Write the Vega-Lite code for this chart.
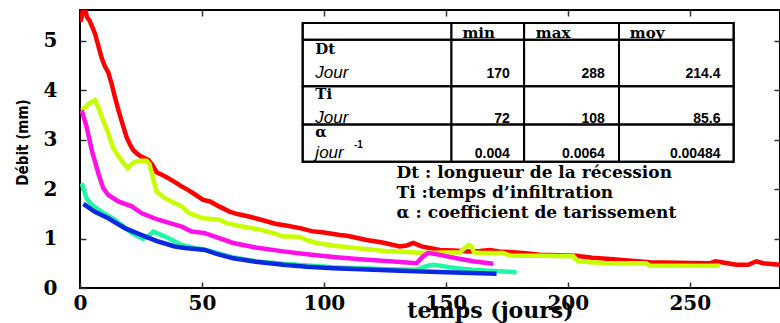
{
  "$schema": "https://vega.github.io/schema/vega-lite/v6.json",
  "width": 700,
  "height": 278,
  "autosize": {"type": "none"},
  "padding": {"left": 80, "top": 10, "right": 0, "bottom": 35},
  "background": "white",
  "config": {"view": {"stroke": "black", "strokeWidth": 2}, "axis": {"grid": false}},
  "datasets": {
    "series": [
      {"s":"A","jour":0.2,"debit":5.38},{"s":"A","jour":1.8,"debit":5.75},{"s":"A","jour":2.8,"debit":5.48},{"s":"A","jour":4.0,"debit":5.40},{"s":"A","jour":5.0,"debit":5.28},{"s":"A","jour":6.1,"debit":5.15},{"s":"A","jour":7.5,"debit":4.90},{"s":"A","jour":8.9,"debit":4.65},{"s":"A","jour":10.2,"debit":4.48},{"s":"A","jour":11.6,"debit":4.36},{"s":"A","jour":13,"debit":4.12},{"s":"A","jour":14.3,"debit":3.86},{"s":"A","jour":15.6,"debit":3.62},{"s":"A","jour":17,"debit":3.39},{"s":"A","jour":19.1,"debit":3.05},{"s":"A","jour":20.5,"debit":2.90},{"s":"A","jour":21.8,"debit":2.79},{"s":"A","jour":23.5,"debit":2.71},{"s":"A","jour":25.3,"debit":2.65},{"s":"A","jour":28,"debit":2.59},{"s":"A","jour":29.5,"debit":2.50},{"s":"A","jour":31.4,"debit":2.34},{"s":"A","jour":34,"debit":2.28},{"s":"A","jour":36.2,"debit":2.22},{"s":"A","jour":38.9,"debit":2.14},{"s":"A","jour":41.5,"debit":2.06},{"s":"A","jour":44.4,"debit":1.98},{"s":"A","jour":47.5,"debit":1.88},{"s":"A","jour":50.5,"debit":1.78},{"s":"A","jour":53.3,"debit":1.75},{"s":"A","jour":57,"debit":1.65},{"s":"A","jour":61.5,"debit":1.54},{"s":"A","jour":65,"debit":1.49},{"s":"A","jour":69.7,"debit":1.44},{"s":"A","jour":75,"debit":1.37},{"s":"A","jour":80,"debit":1.30},{"s":"A","jour":85,"debit":1.26},{"s":"A","jour":90.2,"debit":1.21},{"s":"A","jour":95,"debit":1.15},{"s":"A","jour":100,"debit":1.12},{"s":"A","jour":106.6,"debit":1.07},{"s":"A","jour":110,"debit":1.05},{"s":"A","jour":117.5,"debit":0.97},{"s":"A","jour":124,"debit":0.92},{"s":"A","jour":131.1,"debit":0.84},{"s":"A","jour":134,"debit":0.86},{"s":"A","jour":136.6,"debit":0.91},{"s":"A","jour":140,"debit":0.84},{"s":"A","jour":147.5,"debit":0.77},{"s":"A","jour":153,"debit":0.76},{"s":"A","jour":159.8,"debit":0.74},{"s":"A","jour":164,"debit":0.75},{"s":"A","jour":168,"debit":0.77},{"s":"A","jour":172,"debit":0.74},{"s":"A","jour":181.7,"debit":0.71},{"s":"A","jour":188.5,"debit":0.67},{"s":"A","jour":196,"debit":0.66},{"s":"A","jour":203.6,"debit":0.65},{"s":"A","jour":205,"debit":0.64},{"s":"A","jour":210,"debit":0.61},{"s":"A","jour":218.6,"debit":0.58},{"s":"A","jour":226,"debit":0.55},{"s":"A","jour":233.6,"debit":0.52},{"s":"A","jour":245,"debit":0.51},{"s":"A","jour":258.2,"debit":0.50},{"s":"A","jour":260.5,"debit":0.54},{"s":"A","jour":263,"debit":0.52},{"s":"A","jour":269.1,"debit":0.47},{"s":"A","jour":274,"debit":0.47},{"s":"A","jour":277.3,"debit":0.54},{"s":"A","jour":280,"debit":0.50},{"s":"A","jour":286.9,"debit":0.47},
      {"s":"B","jour":0.7,"debit":3.59},{"s":"B","jour":3.5,"debit":3.72},{"s":"B","jour":6.1,"debit":3.80},{"s":"B","jour":7.5,"debit":3.65},{"s":"B","jour":8.9,"debit":3.46},{"s":"B","jour":11.6,"debit":3.13},{"s":"B","jour":13.7,"debit":2.82},{"s":"B","jour":16.4,"debit":2.62},{"s":"B","jour":19.5,"debit":2.42},{"s":"B","jour":21,"debit":2.50},{"s":"B","jour":22.5,"debit":2.55},{"s":"B","jour":25,"debit":2.57},{"s":"B","jour":27.3,"debit":2.57},{"s":"B","jour":28.5,"debit":2.50},{"s":"B","jour":29.4,"debit":2.32},{"s":"B","jour":31.4,"debit":1.95},{"s":"B","jour":33.5,"debit":1.86},{"s":"B","jour":36.2,"debit":1.78},{"s":"B","jour":41.7,"debit":1.65},{"s":"B","jour":44.4,"debit":1.52},{"s":"B","jour":50.5,"debit":1.41},{"s":"B","jour":57.4,"debit":1.38},{"s":"B","jour":60.1,"debit":1.31},{"s":"B","jour":66,"debit":1.25},{"s":"B","jour":73.8,"debit":1.18},{"s":"B","jour":80,"debit":1.10},{"s":"B","jour":83.3,"debit":1.04},{"s":"B","jour":87,"debit":1.04},{"s":"B","jour":90.2,"debit":1.03},{"s":"B","jour":93,"debit":0.97},{"s":"B","jour":97,"debit":0.91},{"s":"B","jour":105,"debit":0.85},{"s":"B","jour":115,"debit":0.80},{"s":"B","jour":125,"debit":0.75},{"s":"B","jour":131.1,"debit":0.74},{"s":"B","jour":140.7,"debit":0.71},{"s":"B","jour":150,"debit":0.72},{"s":"B","jour":155.7,"debit":0.72},{"s":"B","jour":157.5,"debit":0.80},{"s":"B","jour":159.2,"debit":0.87},{"s":"B","jour":160.5,"debit":0.85},{"s":"B","jour":161.5,"debit":0.72},{"s":"B","jour":165,"debit":0.71},{"s":"B","jour":173.5,"debit":0.71},{"s":"B","jour":175.5,"debit":0.67},{"s":"B","jour":177.6,"debit":0.65},{"s":"B","jour":188.5,"debit":0.65},{"s":"B","jour":202.2,"debit":0.64},{"s":"B","jour":204.2,"debit":0.54},{"s":"B","jour":215.8,"debit":0.50},{"s":"B","jour":232.2,"debit":0.50},{"s":"B","jour":233.6,"debit":0.45},{"s":"B","jour":262.3,"debit":0.45},
      {"s":"C","jour":0.7,"debit":3.59},{"s":"C","jour":2.7,"debit":3.26},{"s":"C","jour":4.8,"debit":2.79},{"s":"C","jour":7.5,"debit":2.32},{"s":"C","jour":9.5,"debit":2.02},{"s":"C","jour":11.6,"debit":1.88},{"s":"C","jour":15.7,"debit":1.75},{"s":"C","jour":21.2,"debit":1.65},{"s":"C","jour":25.3,"debit":1.51},{"s":"C","jour":32.1,"debit":1.38},{"s":"C","jour":41.7,"debit":1.24},{"s":"C","jour":45.8,"debit":1.14},{"s":"C","jour":51.2,"debit":1.11},{"s":"C","jour":62.8,"debit":0.91},{"s":"C","jour":72,"debit":0.82},{"s":"C","jour":83.3,"debit":0.74},{"s":"C","jour":95,"debit":0.67},{"s":"C","jour":105,"debit":0.62},{"s":"C","jour":115,"debit":0.58},{"s":"C","jour":127,"debit":0.54},{"s":"C","jour":138,"debit":0.50},{"s":"C","jour":140.7,"debit":0.64},{"s":"C","jour":142.8,"debit":0.71},{"s":"C","jour":147.5,"debit":0.67},{"s":"C","jour":154.4,"debit":0.60},{"s":"C","jour":161.2,"debit":0.54},{"s":"C","jour":169.4,"debit":0.49},
      {"s":"D","jour":0.7,"debit":2.12},{"s":"D","jour":2.7,"debit":1.81},{"s":"D","jour":4.8,"debit":1.68},{"s":"D","jour":8.9,"debit":1.54},{"s":"D","jour":14.3,"debit":1.38},{"s":"D","jour":18,"debit":1.24},{"s":"D","jour":21.2,"debit":1.11},{"s":"D","jour":25.9,"debit":0.99},{"s":"D","jour":28,"debit":1.05},{"s":"D","jour":30,"debit":1.14},{"s":"D","jour":33,"debit":1.08},{"s":"D","jour":36.2,"debit":1.01},{"s":"D","jour":41.7,"debit":0.87},{"s":"D","jour":47.1,"debit":0.81},{"s":"D","jour":51,"debit":0.78},{"s":"D","jour":62.8,"debit":0.62},{"s":"D","jour":72,"debit":0.54},{"s":"D","jour":83.3,"debit":0.49},{"s":"D","jour":95,"debit":0.45},{"s":"D","jour":103.8,"debit":0.42},{"s":"D","jour":115,"debit":0.40},{"s":"D","jour":127,"debit":0.38},{"s":"D","jour":138,"debit":0.37},{"s":"D","jour":142,"debit":0.44},{"s":"D","jour":144.8,"debit":0.47},{"s":"D","jour":149,"debit":0.44},{"s":"D","jour":154.4,"debit":0.40},{"s":"D","jour":161,"debit":0.37},{"s":"D","jour":168,"debit":0.35},{"s":"D","jour":179,"debit":0.32},
      {"s":"E","jour":1.4,"debit":1.70},{"s":"E","jour":6.1,"debit":1.54},{"s":"E","jour":11.6,"debit":1.41},{"s":"E","jour":18.4,"debit":1.21},{"s":"E","jour":25.3,"debit":1.07},{"s":"E","jour":32.1,"debit":0.94},{"s":"E","jour":38.9,"debit":0.84},{"s":"E","jour":43,"debit":0.81},{"s":"E","jour":51.2,"debit":0.77},{"s":"E","jour":56,"debit":0.69},{"s":"E","jour":62.8,"debit":0.60},{"s":"E","jour":72,"debit":0.53},{"s":"E","jour":83.3,"debit":0.47},{"s":"E","jour":93,"debit":0.43},{"s":"E","jour":103.8,"debit":0.40},{"s":"E","jour":115,"debit":0.38},{"s":"E","jour":131.1,"debit":0.35},{"s":"E","jour":150,"debit":0.32},{"s":"E","jour":170.8,"debit":0.29}
    ],
    "tcols": [
      {"col":"label","x0":91.3,"x1":152.3,"xl":96.5},
      {"col":"min","x0":152.3,"x1":182.1,"xl":156.8,"xr":176.2},
      {"col":"max","x0":182.1,"x1":221.0,"xl":186.9,"xr":215.2},
      {"col":"moy","x0":221.0,"x1":268.0,"xl":225.4,"xr":262.6}
    ],
    "trows": [
      {"row":"head","y0":5.355,"y1":5.02,"yn":5.06},
      {"row":"Dt","y0":5.02,"y1":4.078,"yn":4.738,"yv":4.246},
      {"row":"Ti","y0":4.078,"y1":3.306,"yn":3.83,"yv":3.327},
      {"row":"alpha","y0":3.306,"y1":2.552,"yn":3.044,"yv":2.637}
    ],
    "cells": [
      {"row":"head","col":"min","kind":"head","text":"min"},
      {"row":"head","col":"max","kind":"head","text":"max"},
      {"row":"head","col":"moy","kind":"head","text":"moy"},
      {"row":"Dt","col":"label","kind":"name","text":"Dt"},
      {"row":"Ti","col":"label","kind":"name","text":"Ti"},
      {"row":"alpha","col":"label","kind":"name","text":"α"},
      {"row":"Dt","col":"label","kind":"unit","text":"Jour"},
      {"row":"Ti","col":"label","kind":"unit","text":"Jour"},
      {"row":"alpha","col":"label","kind":"unit","text":"jour"},
      {"row":"Dt","col":"min","kind":"value","text":"170"},
      {"row":"Dt","col":"max","kind":"value","text":"288"},
      {"row":"Dt","col":"moy","kind":"value","text":"214.4"},
      {"row":"Ti","col":"min","kind":"value","text":"72"},
      {"row":"Ti","col":"max","kind":"value","text":"108"},
      {"row":"Ti","col":"moy","kind":"value","text":"85.6"},
      {"row":"alpha","col":"min","kind":"value","text":"0.004"},
      {"row":"alpha","col":"max","kind":"value","text":"0.0064"},
      {"row":"alpha","col":"moy","kind":"value","text":"0.00484"}
    ],
    "exp": [{"text":"-1"}],
    "notes": [{"text":"Dt : longueur de la récession\nTi :temps d’infiltration\nα : coefficient de tarissement"}]
  },
  "layer": [
    {
      "data": {"name": "series"},
      "mark": {"type": "line", "strokeWidth": 4.5, "clip": true},
      "encoding": {
        "x": {"field": "jour", "type": "quantitative", "scale": {"domain": [0, 287], "nice": false, "zero": false},
          "axis": {"orient": "bottom", "values": [0, 50, 100, 150, 200, 250], "domain": false, "tickSize": -6, "tickColor": "#333", "tickWidth": 1.5,
            "labelFont": "DejaVu Serif", "labelFontWeight": "bold", "labelFontSize": 20, "labelColor": "black", "labelPadding": 21, "labelBaseline": "middle", "labelFlush": false, "labelOverlap": false,
            "title": "temps (jours)", "titleFont": "DejaVu Serif", "titleFontWeight": "bold", "titleFontSize": 22, "titleColor": "black", "titleX": 410, "titleY": 22, "titleBaseline": "middle", "titleAlign": "center"}},
        "y": {"field": "debit", "type": "quantitative", "scale": {"domain": [0, 5.62], "nice": false},
          "axis": {"orient": "left", "values": [0, 1, 2, 3, 4, 5], "domain": false, "tickSize": -6, "tickColor": "#333", "tickWidth": 1.5,
            "labelFont": "DejaVu Serif", "labelFontWeight": "bold", "labelFontSize": 20, "labelColor": "black", "labelPadding": 29, "labelFlush": false, "labelOverlap": false,
            "title": "Débit (mm)", "titleFont": "Liberation Sans Narrow, DejaVu Sans Condensed, sans-serif", "titleFontWeight": "bold", "titleFontSize": 15, "titleColor": "black", "titleX": -58, "titleY": 132, "titleAngle": -90, "titleBaseline": "middle", "titleAlign": "center"}},
        "color": {"field": "s", "type": "nominal", "scale": {"domain": ["A", "B", "C", "D", "E"], "range": ["#ff0000", "#c8ff00", "#ff10e8", "#20f8a8", "#0a28e0"]}, "legend": null}
      }
    },
    {
      "data": {"name": "series"},
      "mark": {"type": "point", "opacity": 0},
      "encoding": {
        "x": {"field": "jour", "type": "quantitative", "scale": {"domain": [0, 287], "nice": false, "zero": false},
          "axis": {"orient": "top", "values": [50, 100, 150, 200, 250], "labels": false, "title": null, "domain": false, "tickSize": -6, "tickColor": "#333", "tickWidth": 1.5}},
        "y": {"field": "debit", "type": "quantitative", "scale": {"domain": [0, 5.62], "nice": false},
          "axis": {"orient": "right", "values": [1, 2, 3, 4, 5], "labels": false, "title": null, "domain": false, "tickSize": -6, "tickColor": "#333", "tickWidth": 1.5}}
      }
    },
    {
      "data": {"name": "tcols"},
      "mark": {"type": "rect", "fill": "white", "stroke": "black", "strokeWidth": 2},
      "encoding": {
        "x": {"field": "x0", "type": "quantitative", "axis": null},
        "x2": {"field": "x1"},
        "y": {"datum": 5.355, "type": "quantitative", "axis": null},
        "y2": {"datum": 2.552}
      }
    },
    {
      "data": {"name": "trows"},
      "mark": {"type": "rect", "fill": null, "fillOpacity": 0, "stroke": "black", "strokeWidth": 2},
      "encoding": {
        "x": {"datum": 91.3, "type": "quantitative", "axis": null},
        "x2": {"datum": 268.0},
        "y": {"field": "y0", "type": "quantitative", "axis": null},
        "y2": {"field": "y1"}
      }
    },
    {
      "data": {"name": "cells"},
      "transform": [
        {"filter": "datum.kind === 'head' || datum.kind === 'name'"},
        {"lookup": "col", "from": {"data": {"name": "tcols"}, "key": "col", "fields": ["xl"]}},
        {"lookup": "row", "from": {"data": {"name": "trows"}, "key": "row", "fields": ["yn"]}}
      ],
      "mark": {"type": "text", "font": "DejaVu Serif", "fontWeight": "bold", "fontSize": 15, "align": "left", "baseline": "alphabetic", "color": "black"},
      "encoding": {
        "x": {"field": "xl", "type": "quantitative", "axis": null},
        "y": {"field": "yn", "type": "quantitative", "axis": null},
        "text": {"field": "text"}
      }
    },
    {
      "data": {"name": "cells"},
      "transform": [
        {"filter": "datum.kind === 'unit'"},
        {"lookup": "col", "from": {"data": {"name": "tcols"}, "key": "col", "fields": ["xl"]}},
        {"lookup": "row", "from": {"data": {"name": "trows"}, "key": "row", "fields": ["yv"]}}
      ],
      "mark": {"type": "text", "font": "Liberation Sans", "fontStyle": "italic", "fontSize": 17, "align": "left", "baseline": "alphabetic", "color": "black"},
      "encoding": {
        "x": {"field": "xl", "type": "quantitative", "axis": null},
        "y": {"field": "yv", "type": "quantitative", "axis": null},
        "text": {"field": "text"}
      }
    },
    {
      "data": {"name": "cells"},
      "transform": [
        {"filter": "datum.kind === 'value'"},
        {"lookup": "col", "from": {"data": {"name": "tcols"}, "key": "col", "fields": ["xr"]}},
        {"lookup": "row", "from": {"data": {"name": "trows"}, "key": "row", "fields": ["yv"]}}
      ],
      "mark": {"type": "text", "font": "Liberation Sans", "fontWeight": "bold", "fontSize": 14, "align": "right", "baseline": "alphabetic", "color": "black"},
      "encoding": {
        "x": {"field": "xr", "type": "quantitative", "axis": null},
        "y": {"field": "yv", "type": "quantitative", "axis": null},
        "text": {"field": "text"}
      }
    },
    {
      "data": {"name": "exp"},
      "mark": {"type": "text", "font": "Liberation Sans", "fontWeight": "bold", "fontSize": 10, "align": "left", "baseline": "alphabetic", "color": "black"},
      "encoding": {
        "x": {"datum": 112.3, "type": "quantitative", "axis": null},
        "y": {"datum": 2.83, "type": "quantitative", "axis": null},
        "text": {"field": "text"}
      }
    },
    {
      "data": {"name": "notes"},
      "mark": {"type": "text", "font": "DejaVu Serif", "fontWeight": "bold", "fontSize": 17, "align": "left", "baseline": "alphabetic", "lineBreak": "\n", "lineHeight": 20, "color": "black"},
      "encoding": {
        "x": {"datum": 129.8, "type": "quantitative", "axis": null},
        "y": {"datum": 2.218, "type": "quantitative", "axis": null},
        "text": {"field": "text"}
      }
    }
  ],
  "resolve": {"axis": {"x": "independent", "y": "independent"}}
}
